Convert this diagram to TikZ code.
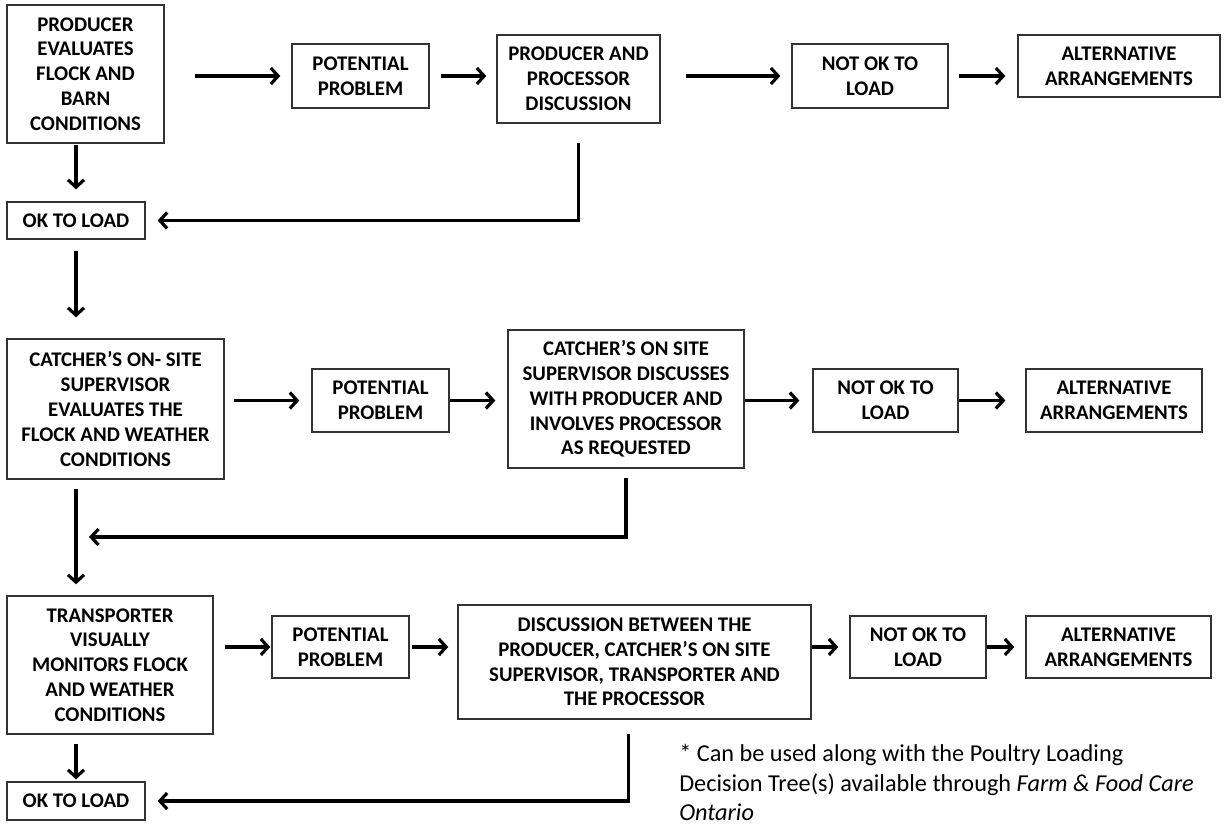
\documentclass[tikz,border=0pt]{standalone}
\usepackage{fontspec}
\setmainfont{Carlito}
\usepackage{tikz}
\usetikzlibrary{arrows.meta, positioning}

\begin{document}
\begin{tikzpicture}[
    x=0.75pt, y=-0.75pt,
    box/.style={rectangle, draw=black!80, line width=1pt, align=center, inner sep=2pt,
      font=\bfseries\fontsize{15.6}{18.6}\selectfont},
    arrow/.style={-{Straight Barb[length=5.5pt, width=12pt]}, line width=2.4pt},
    note/.style={align=left, inner sep=0pt, font=\fontsize{18.2}{22.2}\selectfont}
  ]
    \useasboundingbox (0,0) rectangle (1225,825);

    \node[box, minimum width=117.75pt, minimum height=103.5pt] (prod) at (85.5,74) {PRODUCER\\EVALUATES\\FLOCK AND\\BARN\\CONDITIONS};
    \node[box, minimum width=102.75pt, minimum height=48pt] (pp1) at (360.5,76) {POTENTIAL\\PROBLEM};
    \node[box, minimum width=122.25pt, minimum height=66pt] (disc1) at (578.5,79) {PRODUCER AND\\PROCESSOR\\DISCUSSION};
    \node[box, minimum width=117pt, minimum height=48pt] (notok1) at (870,76) {NOT OK TO\\LOAD};
    \node[box, minimum width=151.5pt, minimum height=46.5pt] (alt1) at (1119,66) {ALTERNATIVE\\ARRANGEMENTS};
    \node[box, minimum width=103.5pt, minimum height=27.75pt] (ok1) at (76,220.5) {OK TO LOAD};

    \node[box, minimum width=162.75pt, minimum height=105pt] (catch) at (115.5,409) {CATCHER’S ON- SITE\\SUPERVISOR\\EVALUATES THE\\FLOCK AND WEATHER\\CONDITIONS};
    \node[box, minimum width=102.75pt, minimum height=47.25pt] (pp2) at (380.5,400.5) {POTENTIAL\\PROBLEM};
    \node[box, minimum width=177pt, minimum height=103.5pt] (disc2) at (626,399) {CATCHER’S ON SITE\\SUPERVISOR DISCUSSES\\WITH PRODUCER AND\\INVOLVES PROCESSOR\\AS REQUESTED};
    \node[box, minimum width=108.75pt, minimum height=47.25pt] (notok2) at (885.5,400.5) {NOT OK TO\\LOAD};
    \node[box, minimum width=132pt, minimum height=47.25pt] (alt2) at (1114,400.5) {ALTERNATIVE\\ARRANGEMENTS};

    \node[box, minimum width=154.5pt, minimum height=103.5pt] (trans) at (110,665) {TRANSPORTER\\VISUALLY\\MONITORS FLOCK\\AND WEATHER\\CONDITIONS};
    \node[box, minimum width=102.75pt, minimum height=46.5pt] (pp3) at (340.5,647) {POTENTIAL\\PROBLEM};
    \node[box, minimum width=264.75pt, minimum height=85.5pt] (disc3) at (634.5,662) {DISCUSSION BETWEEN THE\\PRODUCER, CATCHER’S ON SITE\\SUPERVISOR, TRANSPORTER AND\\THE PROCESSOR};
    \node[box, minimum width=102pt, minimum height=46.5pt] (notok3) at (918,647) {NOT OK TO\\LOAD};
    \node[box, minimum width=138.75pt, minimum height=46.5pt] (alt3) at (1118.5,647) {ALTERNATIVE\\ARRANGEMENTS};
    \node[box, minimum width=103.5pt, minimum height=28.5pt] (ok2) at (76,801) {OK TO LOAD};

    \node[note, anchor=north west] (note) at (679,744) {* Can be used along with the Poultry Loading\\Decision Tree(s) available through \textit{Farm \& Food Care}\\\textit{Ontario}};

    \coordinate (join) at (76,537);

    \draw[arrow, shorten <=22.5pt, shorten >=8.25pt] (pp1.west -| prod.east) -- (pp1.west);
    \draw[arrow, shorten <=8.25pt, shorten >=7.5pt] (pp1.east) -- (pp1.east -| disc1.west);
    \draw[arrow, shorten <=18.75pt, shorten >=8.25pt] (notok1.west -| disc1.east) -- (notok1.west);
    \draw[arrow, shorten <=7.5pt, shorten >=9pt] (notok1.east) -- (notok1.east -| alt1.west);
    \draw[arrow, shorten <=0.75pt, shorten >=9pt] (prod.south -| ok1) -- (ok1);
    \draw[arrow, shorten <=14.25pt, shorten >=9pt] (disc1) |- (ok1);
    \draw[arrow, shorten <=8.25pt, shorten >=15.75pt] (ok1) -- (ok1 |- catch.north);

    \draw[arrow, shorten <=6.75pt, shorten >=9pt] (pp2.west -| catch.east) -- (pp2.west);
    \draw[arrow, shorten >=9pt] (pp2.east) -- (pp2.east -| disc2.west);
    \draw[arrow, shorten >=9.75pt] (notok2.west -| disc2.east) -- (notok2.west);
    \draw[arrow, shorten >=15pt] (notok2.east) -- (notok2.east -| alt2.west);
    \draw[arrow, shorten <=6.75pt, shorten >=8.25pt] (catch.south -| ok1) -- (trans.north -| ok1);
    \draw[arrow, shorten <=6.75pt, shorten >=9.75pt] (disc2) |- (join);

    \draw[arrow, shorten <=8.25pt, shorten >=0.75pt] (pp3.west -| trans.east) -- (pp3.west);
    \draw[arrow, shorten <=1.5pt, shorten >=6.75pt] (pp3.east) -- (pp3.east -| disc3.west);
    \draw[arrow, shorten >=8.25pt] (notok3.west -| disc3.east) -- (notok3.west);
    \draw[arrow, shorten >=8.25pt] (notok3.east) -- (notok3.east -| alt3.west);
    \draw[arrow, shorten <=6.75pt, shorten >=1.5pt] (trans.south -| ok2) -- (ok2);
    \draw[arrow, shorten <=10.5pt, shorten >=9pt] ([xshift=-4.5pt]disc3.south) |- (ok2);
  \end{tikzpicture}
\end{document}
